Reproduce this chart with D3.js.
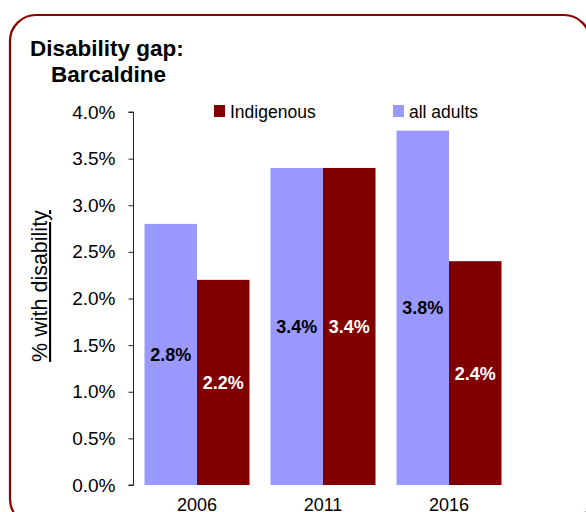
<!DOCTYPE html>
<html>
<head>
<meta charset="utf-8">
<script src="https://cdn.jsdelivr.net/npm/d3@7"></script>
<style>
  html, body { margin: 0; padding: 0; background: #fff; }
  svg { display: block; font-family: "Liberation Sans", Arial, Helvetica, sans-serif; }
</style>
</head>
<body>
<svg id="chart" width="586" height="512"></svg>
<script>
// Disability rates by census year, Barcaldine
const years = ["2006", "2011", "2016"];
const allAdults = [2.8, 3.4, 3.8];
const indigenous = [2.2, 3.4, 2.4];
const seriesNames = ["all adults", "Indigenous"];
const seriesColors = ["#9999FF", "#800000"];
const labelColors = ["#000000", "#FFFFFF"];
const yTicks = [0, 0.5, 1.0, 1.5, 2.0, 2.5, 3.0, 3.5, 4.0];

const svg = d3.select("#chart");

// Rounded frame
svg.append("rect")
  .attr("x", 10).attr("y", 15)
  .attr("width", 580).attr("height", 510)
  .attr("rx", 26).attr("ry", 26)
  .attr("fill", "#fff")
  .attr("stroke", "#8B0000")
  .attr("stroke-width", 2.2);

// Title
const title = svg.append("text")
  .attr("font-weight", "bold")
  .attr("font-size", 22.5)
  .attr("fill", "#000");
title.append("tspan").attr("x", 30).attr("y", 56).text("Disability gap:");
title.append("tspan").attr("x", 51).attr("y", 82).text("Barcaldine");

// Scales
const plotLeft = 134, plotRight = 512, plotTop = 112, plotBottom = 485;
const x0 = d3.scaleBand().domain(years).range([plotLeft, plotRight])
  .paddingInner(1 / 6).paddingOuter(1 / 12);
const x1 = d3.scaleBand().domain(seriesNames).range([0, x0.bandwidth()]);
const y = d3.scaleLinear().domain([0, 4]).range([plotBottom, plotTop]);

// Bars
const rows = years.map((yr, i) => ({ year: yr, values: [allAdults[i], indigenous[i]] }));
const groups = svg.append("g").selectAll("g").data(rows).join("g")
  .attr("transform", d => `translate(${x0(d.year)},0)`);

groups.selectAll("rect").data(d => d.values.map((v, j) => ({ v, j })))
  .join("rect")
  .attr("x", d => x1(seriesNames[d.j]))
  .attr("y", d => y(d.v))
  .attr("width", x1.bandwidth())
  .attr("height", d => y(0) - y(d.v))
  .attr("fill", d => seriesColors[d.j]);

groups.selectAll("text.val").data(d => d.values.map((v, j) => ({ v, j })))
  .join("text")
  .attr("class", "val")
  .attr("x", d => x1(seriesNames[d.j]) + x1.bandwidth() / 2)
  .attr("y", d => (y(d.v) + y(0)) / 2)
  .attr("dy", "0.36em")
  .attr("text-anchor", "middle")
  .attr("font-weight", "bold")
  .attr("font-size", 18)
  .attr("fill", d => labelColors[d.j])
  .text(d => d.v.toFixed(1) + "%");

// Y axis
const yAxis = d3.axisLeft(y).tickValues(yTicks)
  .tickFormat(d => d.toFixed(1) + "%").tickSize(5).tickPadding(13);
const ga = svg.append("g").attr("transform", `translate(${plotLeft - 0.5},0)`).call(yAxis);
ga.select(".domain").attr("stroke", "#222").attr("d", `M-5,${plotTop}H0V${plotBottom}H-5`);
ga.selectAll(".tick line").attr("stroke", "#222");
ga.selectAll(".tick text").attr("font-size", 19).attr("fill", "#000")
  .attr("font-family", "\"Liberation Sans\", Arial, sans-serif");

// X category labels
svg.append("g").selectAll("text").data(years).join("text")
  .attr("x", d => x0(d) + x0.bandwidth() / 2)
  .attr("y", 511)
  .attr("text-anchor", "middle")
  .attr("font-size", 18)
  .attr("fill", "#000")
  .text(d => d);

// Y axis title
svg.append("text")
  .attr("transform", "translate(47,286) rotate(-90)")
  .attr("text-anchor", "middle")
  .attr("font-size", 21.5)
  .attr("text-decoration", "underline")
  .attr("fill", "#000")
  .text("% with disability");

// Legend
const legend = [
  { name: "Indigenous", color: seriesColors[1], x: 214 },
  { name: "all adults", color: seriesColors[0], x: 393 }
];
const lg = svg.append("g").selectAll("g").data(legend).join("g")
  .attr("transform", d => `translate(${d.x},105)`);
lg.append("rect").attr("width", 11).attr("height", 12).attr("fill", d => d.color);
lg.append("text").attr("x", 16).attr("y", 13)
  .attr("font-size", 17.5).attr("fill", "#000")
  .text(d => d.name);
</script>
</body>
</html>
